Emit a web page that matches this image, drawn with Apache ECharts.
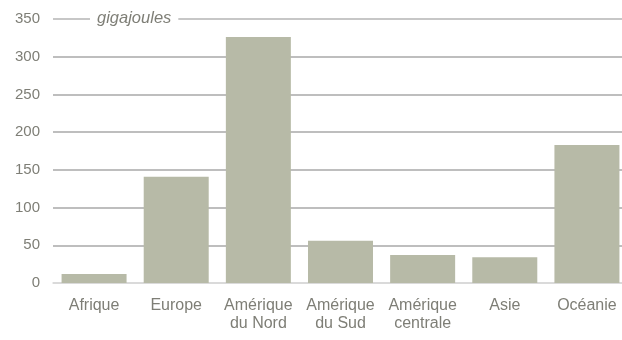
<!DOCTYPE html>
<html>
<head>
<meta charset="utf-8">
<script src="https://cdn.jsdelivr.net/npm/echarts@6/dist/echarts.min.js"></script>
<style>
  html, body { margin: 0; padding: 0; background: #fff; overflow: hidden; width: 622px; height: 340px; }
  #chart { width: 630px; height: 340px; }
</style>
</head>
<body>
<div id="chart"></div>
<script>
// Energy consumption per inhabitant by region, in gigajoules
const regions = ['Afrique', 'Europe', 'Amérique\ndu Nord', 'Amérique\ndu Sud', 'Amérique\ncentrale', 'Asie', 'Océanie'];
const gigajoules = [12, 141, 326, 56, 37, 34, 183];
const unitLabel = 'gigajoules';

const chart = echarts.init(document.getElementById('chart'), null, { renderer: 'canvas' });

chart.setOption({
  animation: false,
  backgroundColor: '#ffffff',
  grid: { left: 53, top: 19, right: 2, bottom: 57, containLabel: false },
  xAxis: {
    type: 'category',
    data: regions,
    axisLine: { show: true, lineStyle: { color: '#d6d6d6', width: 1.5 } },
    axisTick: { show: false },
    axisLabel: {
      color: '#7e7e76',
      fontFamily: 'Liberation Sans, Arial, sans-serif',
      fontSize: 16,
      lineHeight: 18,
      margin: 14,
      interval: 0
    }
  },
  yAxis: {
    type: 'value',
    min: 0,
    max: 350,
    interval: 50,
    axisLine: { show: false },
    axisTick: { show: false },
    axisLabel: {
      color: '#7e7e76',
      fontFamily: 'Liberation Sans, Arial, sans-serif',
      fontSize: 15,
      margin: 13
    },
    splitLine: {
      lineStyle: { color: ['#dcdcdc', '#a9a9a9', '#a9a9a9', '#a9a9a9', '#a9a9a9', '#a9a9a9', '#a9a9a9', '#b5b5b5'], width: 1.6 }
    }
  },
  series: [{
    type: 'bar',
    data: gigajoules,
    barWidth: 65,
    itemStyle: { color: '#b7baa7' },
    z: 3
  }],
  graphic: [{
    type: 'text',
    left: 90,
    top: 10,
    z: 10,
    style: {
      text: unitLabel,
      fill: '#7e7e76',
      font: 'italic 16.5px "Liberation Sans", Arial, sans-serif',
      backgroundColor: '#ffffff',
      padding: [0, 7, 0, 7]
    }
  }]
});
</script>
</body>
</html>
